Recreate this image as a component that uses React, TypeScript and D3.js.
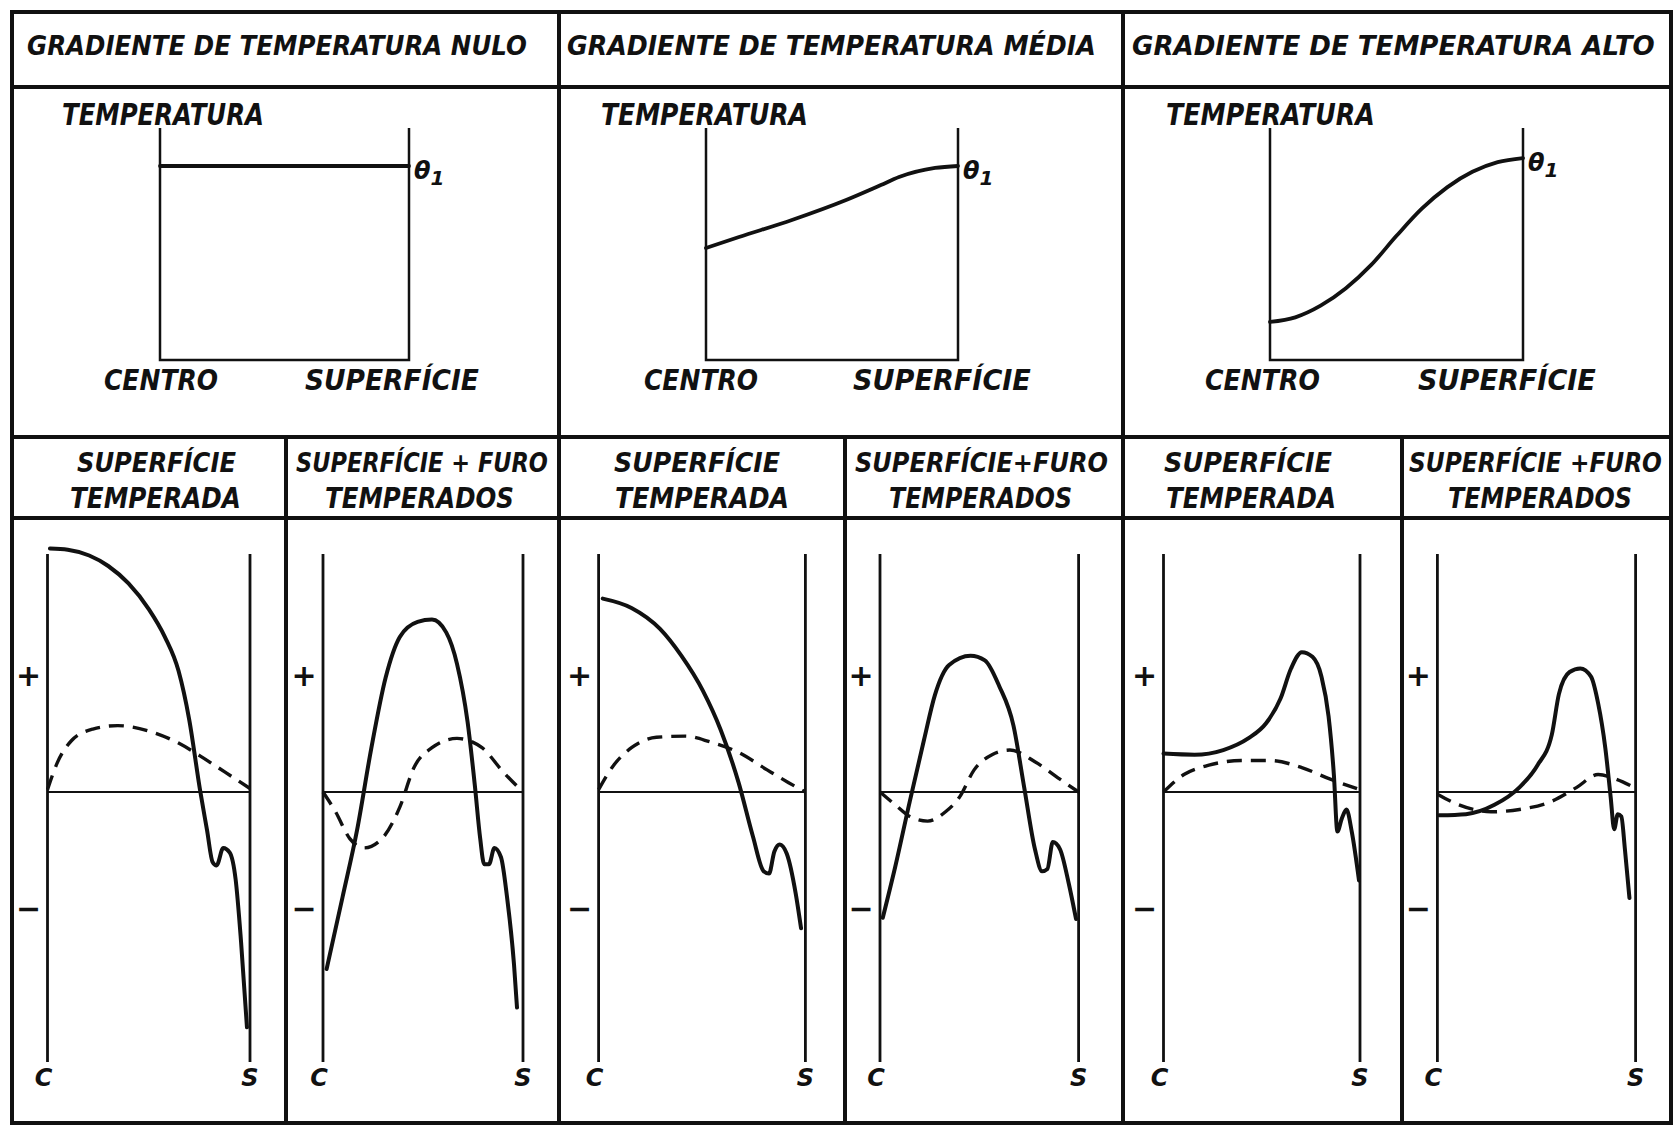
import * as d3 from 'd3';
import {useEffect, useRef} from 'react';

const width = 1676;
const height = 1126;

// ---- texts ----
const headerTitles = [
  'GRADIENTE DE TEMPERATURA NULO',
  'GRADIENTE DE TEMPERATURA MÉDIA',
  'GRADIENTE DE TEMPERATURA  ALTO',
];
const tempAxisLabel = 'TEMPERATURA';
const centerLabel = 'CENTRO';
const surfaceLabel = 'SUPERFÍCIE';
const thetaLabel = 'θ';
const thetaSub = '1';
const subTitlesLine1 = [
  'SUPERFÍCIE',
  'SUPERFÍCIE + FURO',
  'SUPERFÍCIE',
  'SUPERFÍCIE+FURO',
  'SUPERFÍCIE',
  'SUPERFÍCIE +FURO',
];
const subTitlesLine2 = ['TEMPERADA', 'TEMPERADOS', 'TEMPERADA', 'TEMPERADOS', 'TEMPERADA', 'TEMPERADOS'];
const signTicks = [1, -1];
const signLabels = ['+', '−'];
const endLabels = ['C', 'S'];

// ---- temperature profiles (u: centre 0 -> surface 1, v: temperature, 1 = θ1) ----
const tempNulo = [[0, 1], [1, 1]];
const tempMedia = [
  [0, 0.577], [0.131, 0.634], [0.341, 0.722], [0.556, 0.825],
  [0.694, 0.902], [0.766, 0.943], [0.909, 0.99], [1, 1.0],
];
const tempAlto = [
  [0, 0.196], [0.1, 0.22], [0.2, 0.28], [0.3, 0.37], [0.4, 0.49], [0.5, 0.64],
  [0.6, 0.78], [0.7, 0.89], [0.8, 0.97], [0.9, 1.02], [1, 1.041],
];

// ---- stress curves (u: C 0 -> S 1, v: + is 1, - is -1) ----
const nuloSupSolid = [
  [0.012, 2.09], [0.1, 2.08], [0.206, 2.03], [0.3, 1.94], [0.4, 1.79],
  [0.5, 1.57], [0.58, 1.33], [0.647, 1.04], [0.7, 0.62], [0.753, 0.02],
  [0.788, -0.33], [0.815, -0.6], [0.835, -0.63], [0.868, -0.48], [0.9, -0.52],
  [0.929, -0.75], [0.956, -1.29], [0.985, -2.02],
];
const nuloSupDashed = [
  [0, 0.02], [0.048, 0.25], [0.118, 0.44], [0.224, 0.54], [0.347, 0.57],
  [0.506, 0.52], [0.647, 0.42], [0.753, 0.31], [0.877, 0.17], [1.0, 0.03],
];
const nuloFuroSolid = [
  [0.018, -1.52], [0.098, -0.9], [0.17, -0.33], [0.241, 0.37], [0.313, 0.98],
  [0.384, 1.33], [0.473, 1.46], [0.545, 1.48], [0.616, 1.37], [0.67, 1.1],
  [0.723, 0.6], [0.759, 0.06], [0.786, -0.4], [0.806, -0.62], [0.83, -0.62],
  [0.857, -0.48], [0.89, -0.56], [0.92, -0.9], [0.955, -1.48], [0.97, -1.85],
];
const nuloFuroDashed = [
  [0, 0], [0.063, -0.17], [0.134, -0.4], [0.205, -0.48], [0.295, -0.4],
  [0.384, -0.13], [0.455, 0.21], [0.545, 0.38], [0.67, 0.46], [0.795, 0.38],
  [0.902, 0.17], [1.0, 0],
];
const mediaSupSolid = [
  [0.02, 1.66], [0.159, 1.58], [0.297, 1.4], [0.4, 1.17], [0.504, 0.87],
  [0.591, 0.53], [0.677, 0.08], [0.746, -0.38], [0.798, -0.68], [0.824, -0.7],
  [0.85, -0.51], [0.876, -0.45], [0.91, -0.53], [0.953, -0.87], [0.979, -1.17],
];
const mediaSupDashed = [
  [0, 0.02], [0.073, 0.23], [0.159, 0.38], [0.28, 0.47], [0.418, 0.48],
  [0.539, 0.43], [0.677, 0.34], [0.815, 0.19], [0.919, 0.08], [1.0, 0],
];
const mediaFuroSolid = [
  [0.014, -1.08], [0.077, -0.64], [0.15, -0.08], [0.222, 0.45], [0.276, 0.83],
  [0.348, 1.09], [0.456, 1.17], [0.528, 1.13], [0.6, 0.91], [0.672, 0.57],
  [0.726, 0.04], [0.78, -0.49], [0.816, -0.68], [0.843, -0.66], [0.87, -0.43],
  [0.906, -0.49], [0.951, -0.79], [0.987, -1.09],
];
const mediaFuroDashed = [
  [0, 0], [0.077, -0.11], [0.15, -0.21], [0.24, -0.25], [0.33, -0.17],
  [0.402, -0.04], [0.474, 0.19], [0.564, 0.32], [0.654, 0.36], [0.78, 0.26],
  [0.906, 0.11], [1.0, 0],
];
const altoSupSolid = [
  [0.0, 0.33], [0.158, 0.32], [0.304, 0.36], [0.431, 0.46], [0.522, 0.59],
  [0.595, 0.8], [0.649, 1.06], [0.704, 1.2], [0.758, 1.16], [0.804, 0.99],
  [0.84, 0.65], [0.867, 0.15], [0.885, -0.34], [0.907, -0.23], [0.931, -0.15],
  [0.958, -0.34], [0.995, -0.76],
];
const altoSupDashed = [
  [0, 0], [0.104, 0.15], [0.231, 0.23], [0.395, 0.27], [0.54, 0.27],
  [0.704, 0.21], [0.849, 0.11], [1.0, 0.02],
];
const altoFuroSolid = [
  [0.009, -0.2], [0.144, -0.19], [0.288, -0.11], [0.414, 0.04], [0.505, 0.23],
  [0.577, 0.49], [0.613, 0.84], [0.667, 1.03], [0.721, 1.06], [0.775, 0.99],
  [0.811, 0.76], [0.847, 0.38], [0.874, -0.04], [0.892, -0.32], [0.91, -0.19],
  [0.928, -0.21], [0.946, -0.49], [0.969, -0.91],
];
const altoFuroDashed = [
  [0, -0.02], [0.108, -0.11], [0.27, -0.17], [0.414, -0.15], [0.577, -0.08],
  [0.703, 0.04], [0.811, 0.15], [0.901, 0.11], [0.991, 0.04],
];

const tempSeries = [tempNulo, tempMedia, tempAlto];
const stressSeries = [
  [nuloSupSolid, nuloSupDashed],
  [nuloFuroSolid, nuloFuroDashed],
  [mediaSupSolid, mediaSupDashed],
  [mediaFuroSolid, mediaFuroDashed],
  [altoSupSolid, altoSupDashed],
  [altoFuroSolid, altoFuroDashed],
];

// ---- layout ----
const frame = {x0: 12, x1: 1671, y0: 12, y1: 1123, header: 87, top: 437, sub: 518};
const mainCols = [559, 1123];
const subCols = [286, 845, 1402];
const headerBoxes = [[27, 527], [567, 1096], [1132, 1655]];
const topLayout = [
  {x0: 160, x1: 409, temp: [62, 264], centro: [104, 218], sup: [305, 479]},
  {x0: 706, x1: 958, temp: [601, 808], centro: [644, 758], sup: [853, 1031]},
  {x0: 1270, x1: 1523, temp: [1166, 1375], centro: [1205, 1320], sup: [1418, 1596]},
];
const subBoxes1 = [[77, 236], [296, 548], [614, 780], [855, 1108], [1164, 1332], [1409, 1662]];
const subBoxes2 = [[70, 241], [325, 514], [615, 789], [889, 1072], [1166, 1336], [1448, 1632]];
const botLayout = [
  [47.5, 250], [323, 523], [598.6, 805.4], [880, 1078.6], [1163.5, 1360], [1437.4, 1635.6],
];

const font = "'DejaVu Sans', sans-serif";

// draws a bold italic label and squeezes it horizontally into [x0, x1]
function fitText(g, str, x0, x1, y, size) {
  const t = g
    .append('text')
    .attr('x', 0)
    .attr('y', 0)
    .style('font-family', font)
    .style('font-weight', 'bold')
    .style('font-style', 'italic')
    .style('font-size', `${size}px`)
    .attr('fill', '#111')
    .text(str);
  const w = t.node().getComputedTextLength() || x1 - x0;
  t.attr('transform', `translate(${x0},${y}) scale(${(x1 - x0) / w},1)`);
}

function App() {
  const refContainer = useRef(null);

  useEffect(() => {
    const svg = d3
      .select(refContainer.current)
      .append('svg')
      .attr('width', width)
      .attr('height', height)
      .style('position', 'absolute')
      .style('left', '0px')
      .style('top', '0px')
      .style('background', '#fff');

    const ink = '#111';

    // frame and grid
    const grid = svg.append('g').attr('stroke', ink).attr('stroke-width', 4).attr('fill', 'none');
    grid
      .append('rect')
      .attr('x', frame.x0)
      .attr('y', frame.y0)
      .attr('width', frame.x1 - frame.x0)
      .attr('height', frame.y1 - frame.y0);
    [frame.header, frame.top, frame.sub].forEach(y =>
      grid.append('line').attr('x1', frame.x0).attr('x2', frame.x1).attr('y1', y).attr('y2', y)
    );
    mainCols.forEach(x =>
      grid.append('line').attr('x1', x).attr('x2', x).attr('y1', frame.y0).attr('y2', frame.y1)
    );
    subCols.forEach(x =>
      grid.append('line').attr('x1', x).attr('x2', x).attr('y1', frame.top).attr('y2', frame.y1)
    );

    const txt = svg.append('g');
    headerTitles.forEach((t, i) => fitText(txt, t, headerBoxes[i][0], headerBoxes[i][1], 55, 27));

    // temperature profiles
    topLayout.forEach((p, i) => {
      const x = d3.scaleLinear().domain([0, 1]).range([p.x0, p.x1]);
      const y = d3.scaleLinear().domain([0, 1]).range([360, 166]);
      const g = svg.append('g');
      g.append('path')
        .attr('d', `M${p.x0},128V${y(0)}H${p.x1}V128`)
        .attr('fill', 'none')
        .attr('stroke', ink)
        .attr('stroke-width', 2.5);
      const line = d3
        .line()
        .x(d => x(d[0]))
        .y(d => y(d[1]))
        .curve(d3.curveMonotoneX);
      g.append('path')
        .datum(tempSeries[i])
        .attr('d', line)
        .attr('fill', 'none')
        .attr('stroke', ink)
        .attr('stroke-width', 3.8)
        .attr('stroke-linecap', 'round');
      fitText(g, tempAxisLabel, p.temp[0], p.temp[1], 125, 30);
      fitText(g, centerLabel, p.centro[0], p.centro[1], 390, 28);
      fitText(g, surfaceLabel, p.sup[0], p.sup[1], 390, 28);
      const last = tempSeries[i][tempSeries[i].length - 1];
      const th = g
        .append('text')
        .attr('x', p.x1 + 5)
        .attr('y', y(last[1]) + 13)
        .style('font-family', font)
        .style('font-weight', 'bold')
        .style('font-style', 'italic')
        .style('font-size', '24px')
        .attr('fill', ink)
        .text(thetaLabel);
      th.append('tspan').attr('dy', 6).style('font-size', '20px').text(thetaSub);
    });

    // subheaders
    subTitlesLine1.forEach((t, i) => fitText(txt, t, subBoxes1[i][0], subBoxes1[i][1], 472, 27));
    subTitlesLine2.forEach((t, i) => fitText(txt, t, subBoxes2[i][0], subBoxes2[i][1], 508, 28));

    // stress panels
    const yScale = d3.scaleLinear().domain([-1, 1]).range([908.5, 675.5]);
    botLayout.forEach((b, i) => {
      const x = d3.scaleLinear().domain([0, 1]).range(b);
      const g = svg.append('g');
      [0, 1].forEach(u =>
        g
          .append('line')
          .attr('x1', x(u))
          .attr('x2', x(u))
          .attr('y1', 554)
          .attr('y2', 1062)
          .attr('stroke', ink)
          .attr('stroke-width', 2.8)
      );
      g.append('line')
        .attr('x1', x(0))
        .attr('x2', x(1))
        .attr('y1', yScale(0))
        .attr('y2', yScale(0))
        .attr('stroke', ink)
        .attr('stroke-width', 2.2);
      signTicks.forEach((v, k) =>
        g
          .append('text')
          .attr('x', x(0) - 19)
          .attr('y', yScale(v))
          .attr('text-anchor', 'middle')
          .attr('dominant-baseline', 'central')
          .style('font-family', font)
          .style('font-weight', 'bold')
          .style('font-size', '30px')
          .attr('fill', ink)
          .text(signLabels[k])
      );
      endLabels.forEach((l, k) =>
        g
          .append('text')
          .attr('x', x(k) - (k === 0 ? 4 : 0))
          .attr('y', 1086)
          .attr('text-anchor', 'middle')
          .style('font-family', font)
          .style('font-weight', 'bold')
          .style('font-style', 'italic')
          .style('font-size', '24px')
          .attr('fill', ink)
          .text(l)
      );
      const line = d3
        .line()
        .x(d => x(d[0]))
        .y(d => yScale(d[1]))
        .curve(d3.curveMonotoneX);
      const [solid, dashed] = stressSeries[i];
      g.append('path')
        .datum(dashed)
        .attr('d', line)
        .attr('fill', 'none')
        .attr('stroke', ink)
        .attr('stroke-width', 3.4)
        .attr('stroke-dasharray', '15 9');
      g.append('path')
        .datum(solid)
        .attr('d', line)
        .attr('fill', 'none')
        .attr('stroke', ink)
        .attr('stroke-width', 4)
        .attr('stroke-linecap', 'round')
        .attr('stroke-linejoin', 'round');
    });

    return () => svg.remove();
  }, []);

  return <div ref={refContainer}></div>;
}

export default App;
